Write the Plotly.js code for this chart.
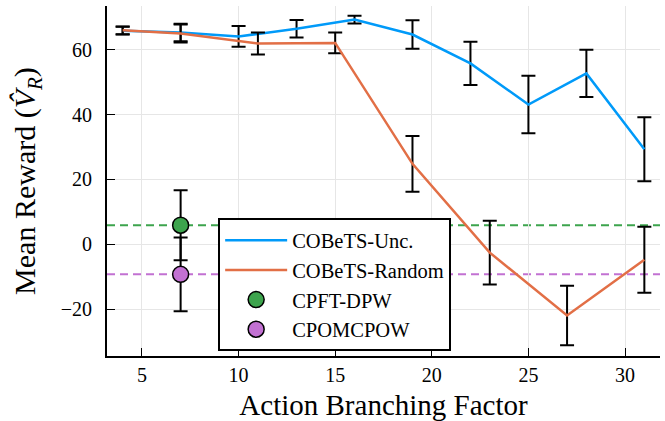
<!DOCTYPE html>
<html>
<head>
<meta charset="utf-8">
<script src="https://cdn.plot.ly/plotly-3.0.1.min.js"></script>
<style>html,body{margin:0;padding:0;background:#fff;}#chart{width:665px;height:421px;}</style>
</head>
<body>
<div id="chart"></div>
<script>
// Data
const uncX = [4, 7, 10, 13, 16, 19, 22, 25, 28, 31];
const uncY = [65.9, 65.3, 64.1, 66.5, 69.3, 64.7, 55.8, 43.1, 52.7, 29.3];
const uncErr = [1.2, 2.7, 3.2, 2.7, 1.2, 4.4, 6.7, 8.9, 7.3, 9.9];

const rndX = [4, 7, 11, 15, 19, 23, 27, 31];
const rndY = [66.0, 65.0, 61.9, 62.1, 24.8, -2.6, -22.0, -4.8];
const rndErr = [1.2, 2.8, 3.4, 3.2, 8.6, 9.8, 9.2, 10.2];

const cpftX = [7];
const cpftY = [5.85];
const cpftErr = [10.8];

const pomX = [7];
const pomY = [-9.3];
const pomErr = [11.4];

const xTicks = [5, 10, 15, 20, 25, 30];
const yTicks = [-20, 0, 20, 40, 60];
const names = ["COBeTS-Unc.", "COBeTS-Random", "CPFT-DPW", "CPOMCPOW"];

const FONT = "Liberation Serif, Times New Roman, serif";
const BLUE = "#009af9", RED = "#e26f46", GREEN = "#3da44d", PURPLE = "#c271d2";

function errBar(arr) {
  return {type: "data", array: arr, visible: true, color: "black", thickness: 2, width: 7};
}

const traces = [
  {x: uncX, y: uncY, name: names[0], type: "scatter", mode: "lines",
   line: {color: BLUE, width: 2.5}, error_y: errBar(uncErr)},
  {x: rndX, y: rndY, name: names[1], type: "scatter", mode: "lines",
   line: {color: RED, width: 2.5}, error_y: errBar(rndErr)},
  {x: cpftX, y: cpftY, name: names[2], type: "scatter", mode: "markers",
   marker: {color: GREEN, size: 16, line: {color: "black", width: 1.5}}, error_y: errBar(cpftErr)},
  {x: pomX, y: pomY, name: names[3], type: "scatter", mode: "markers",
   marker: {color: PURPLE, size: 16, line: {color: "black", width: 1.5}}, error_y: errBar(pomErr)}
];

const shapes = [
  {type: "line", xref: "paper", x0: 0, x1: 1, yref: "y", y0: cpftY[0], y1: cpftY[0],
   line: {color: GREEN, width: 2, dash: "8px,5px"}, layer: "between"},
  {type: "line", xref: "paper", x0: 0, x1: 1, yref: "y", y0: pomY[0], y1: pomY[0],
   line: {color: PURPLE, width: 2, dash: "8px,5px"}, layer: "between"}
];

const axisCommon = {
  showgrid: true, gridcolor: "#e6e6e6", gridwidth: 1,
  showline: true, linecolor: "black", linewidth: 2, mirror: false,
  ticks: "inside", ticklen: 8, tickwidth: 1, tickcolor: "black",
  zeroline: false, tickfont: {family: FONT, size: 20, color: "black"},
  tickmode: "array"
};

const layout = {
  width: 665, height: 421,
  margin: {l: 107, r: 5, t: 6, b: 65},
  paper_bgcolor: "white", plot_bgcolor: "white",
  font: {family: FONT, color: "black"},
  showlegend: true,
  legend: {x: 0.201, y: 0.393, xanchor: "left", yanchor: "top",
           bgcolor: "white", bordercolor: "black", borderwidth: 2,
           font: {family: FONT, size: 20.5, color: "black"}, itemwidth: 62},
  xaxis: Object.assign({}, axisCommon, {
    range: [3.19, 31.81], tickvals: xTicks, ticklabelstandoff: 0,
    title: {text: "Action Branching Factor", font: {family: FONT, size: 29}, standoff: 15}
  }),
  yaxis: Object.assign({}, axisCommon, {
    range: [-34.5, 73.5], tickvals: yTicks, ticklabelstandoff: 9,
    title: {text: "Mean Reward (<i>V\u0302</i><sub><i>R</i></sub>)", font: {family: FONT, size: 30}, standoff: 16}
  }),
  shapes: shapes
};

Plotly.newPlot("chart", traces, layout, {staticPlot: true, displayModeBar: false});
</script>
</body>
</html>
